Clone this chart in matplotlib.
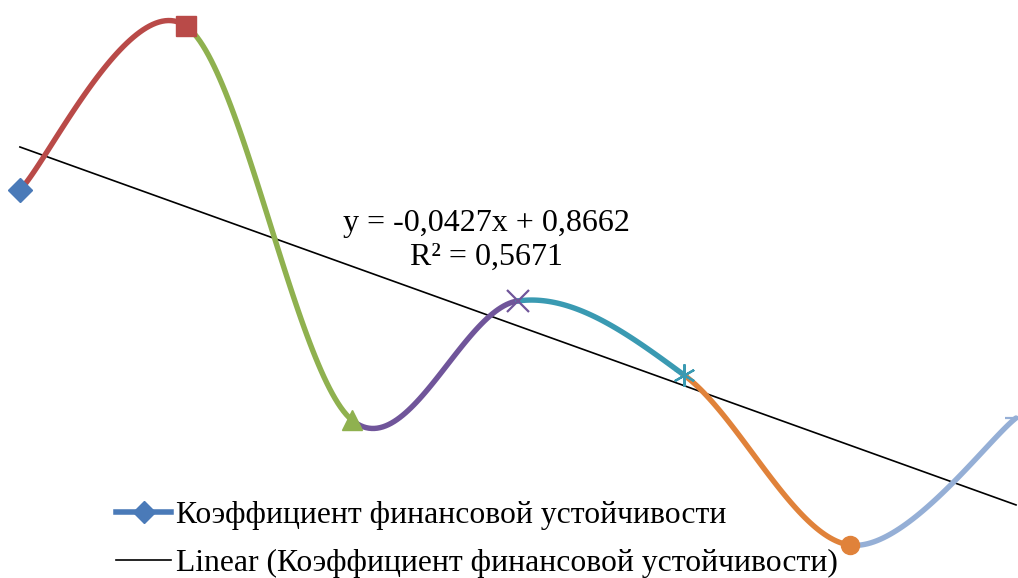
import numpy as np
import matplotlib.pyplot as plt
from matplotlib.lines import Line2D

x = [1, 2, 3, 4, 5, 6, 7]
y = [0.7927, 0.9101, 0.628, 0.7133, 0.6603, 0.5386, 0.6295]
seg_colors = ['#B94A48', '#8FB14F', '#70559A', '#3A9AB2', '#E0823A', '#95AFD6']
pt_colors = ['#4A7AB8', '#B94A48', '#8FB14F', '#70559A', '#3A9AB2', '#E0823A', '#95AFD6']
markers = ['D', 's', '^', 'x', (6, 2, 0), 'o', '_']
slope, intercept = -0.0427, 0.8662
label = 'Коэффициент финансовой устойчивости'

plt.rcParams['font.family'] = ['Liberation Serif', 'DejaVu Serif']

fig = plt.figure(figsize=(10.18, 5.78), dpi=100)
ax = fig.add_axes([0, 0, 1, 1])
ax.axis('off')
ax.set_xlim(0.88, 7.012)
ax.set_ylim(0.515, 0.9287)

# Excel-like smoothed segments (Bezier, 1/6 tangents)
px = np.array(x, float)
py = np.array(y, float)
n = len(px)
t = np.linspace(0, 1, 60)
for i in range(n - 1):
    p0 = np.array([px[max(i - 1, 0)], py[max(i - 1, 0)]])
    p1 = np.array([px[i], py[i]])
    p2 = np.array([px[i + 1], py[i + 1]])
    p3 = np.array([px[min(i + 2, n - 1)], py[min(i + 2, n - 1)]])
    c1 = p1 + (p2 - p0) / 6
    c2 = p2 - (p3 - p1) / 6
    b = ((1 - t) ** 3)[:, None] * p1 + (3 * (1 - t) ** 2 * t)[:, None] * c1 \
        + (3 * (1 - t) * t ** 2)[:, None] * c2 + (t ** 3)[:, None] * p2
    ax.plot(b[:, 0], b[:, 1], color=seg_colors[i], lw=3.9, solid_capstyle='round', zorder=2)

sizes = [12, 14, 15, 16, 16, 13, 16]
for xi, yi, c, m, s in zip(x, y, pt_colors, markers, sizes):
    thin = m in ('x', '_') or isinstance(m, tuple)
    ax.plot(xi, yi, marker=m, color=c, ms=s, mew=1.6 if thin else 1, zorder=3)

xt = np.array([x[0], x[-1]])
ax.plot(xt, slope * xt + intercept, color='black', lw=1.2, zorder=1)

fig.text(486 / 1018, 1 - 240 / 578, 'y = -0,0427x + 0,8662\nR² = 0,5671',
         ha='center', va='center', fontsize=23, linespacing=1.22)

handles = [Line2D([], [], color='#4A7AB8', lw=4, marker='D', ms=11),
           Line2D([], [], color='black', lw=1.2)]
fig.legend(handles, [label, 'Linear (' + label + ')'], loc='lower left',
           bbox_to_anchor=(116 / 1018, 0.0), frameon=False, fontsize=22.8,
           handlelength=1.75, handletextpad=0.15, labelspacing=0.58, borderpad=0,
           borderaxespad=0)

fig.savefig('out.png', dpi=100)
